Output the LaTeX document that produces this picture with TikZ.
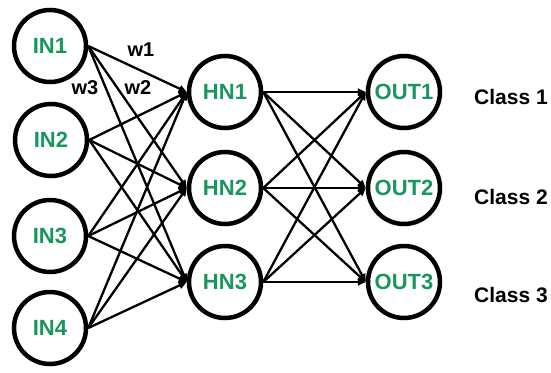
\documentclass[tikz,border=0pt]{standalone}
\usepackage{fontspec}
\setmainfont{Liberation Sans}
\usetikzlibrary{arrows.meta}
\definecolor{nodegreen}{RGB}{24,150,92}
\tikzset{
  neuron/.style={circle, draw=black, line width=4.5pt, minimum size=72pt, inner sep=0pt,
    font=\fontsize{22}{22}\selectfont\bfseries, text=nodegreen},
  link/.style={line width=2.3pt, -{Triangle[length=8pt,width=7pt]}},
  classlabel/.style={font=\fontsize{21}{21}\selectfont\bfseries, text=black},
  weight/.style={font=\fontsize{20}{20}\selectfont\bfseries, text=black, inner sep=0pt}
}
\begin{document}
\begin{tikzpicture}[x=1pt,y=-1pt]
\useasboundingbox (0,0) rectangle (551,372);
% input layer
\node[neuron] (in1) at (50,46) {IN1};
\node[neuron] (in2) at (51,140) {IN2};
\node[neuron] (in3) at (50,236) {IN3};
\node[neuron] (in4) at (50,328) {IN4};
% hidden layer
\node[neuron] (hn1) at (225,92) {HN1};
\node[neuron] (hn2) at (225,188) {HN2};
\node[neuron] (hn3) at (225,282) {HN3};
% output layer
\node[neuron] (out1) at (404,92) {OUT1};
\node[neuron] (out2) at (404,188) {OUT2};
\node[neuron] (out3) at (404,282) {OUT3};
% class names
\node[classlabel] (c1) at (511,97) {Class 1};
\node[classlabel] (c2) at (511,197) {Class 2};
\node[classlabel] (c3) at (511,295) {Class 3};
% connections input -> hidden
\foreach \i in {1,...,4}
  \foreach \h in {1,2,3}
    \draw[link] (in\i.east) -- (hn\h.west);
% connections hidden -> output
\foreach \h in {1,2,3}
  \foreach \o in {1,2,3}
    \draw[link] (hn\h.east) -- (out\o.west);
% weight labels
\node[weight] (w1) at (141,50) {w1};
\node[weight] (w2) at (138,88) {w2};
\node[weight] (w3) at (85,88) {w3};
\end{tikzpicture}
\end{document}
